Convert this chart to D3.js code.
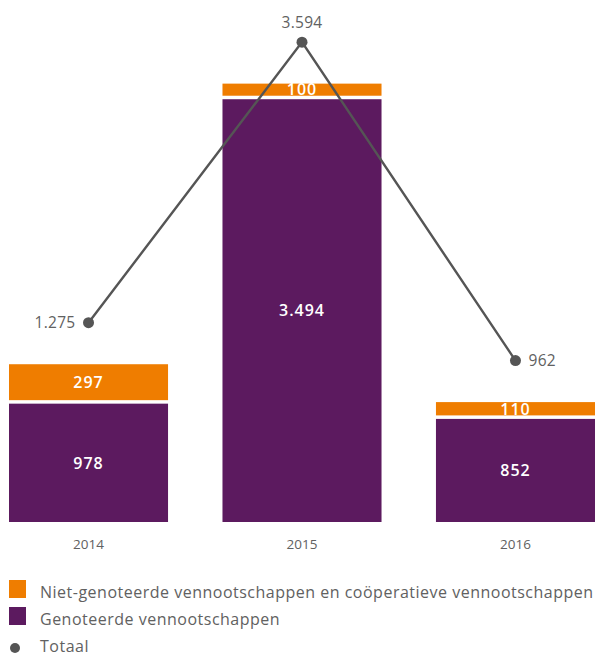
<!DOCTYPE html>
<html>
<head>
<meta charset="utf-8">
<script src="https://cdn.jsdelivr.net/npm/d3@7"></script>
<style>
  html, body { margin: 0; padding: 0; background: #fff; }
  svg { display: block; font-family: "Open Sans", "DejaVu Sans", sans-serif; }
</style>
</head>
<body>
<svg id="chart" width="598" height="657"></svg>
<script>
// Jaren en aantallen per categorie
const years = ["2014", "2015", "2016"];
const genoteerd = [978, 3494, 852];
const nietGenoteerd = [297, 100, 110];
const totaal = [1275, 3594, 962];

const seriesNames = [
  "Niet-genoteerde vennootschappen en coöperatieve vennootschappen",
  "Genoteerde vennootschappen",
  "Totaal"
];
const colors = { orange: "#EF7D00", purple: "#5C1A5F", line: "#555555", text: "#616161" };

const svg = d3.select("#chart");

const x = d3.scaleBand().domain(years).range([9, 595]).paddingInner(0.255).paddingOuter(0);

const y = d3.scaleLinear().domain([0, 3600]).range([522, 522 - 3600 * 0.121]);
// the total line runs on the same scale, lifted above the bars
const lift = 45;
const yLine = d3.scaleLinear().domain([0, 3600]).range([y(0) - lift, y(3600) - lift]);
const gap = 3.5;

const data = years.map((yr, i) => ({ yr, g: genoteerd[i], n: nietGenoteerd[i], t: totaal[i] }));

const bars = svg.append("g");
// Genoteerde vennootschappen
bars.selectAll("rect.g").data(data).join("rect")
  .attr("x", d => x(d.yr)).attr("width", x.bandwidth())
  .attr("y", d => y(d.g)).attr("height", d => y(0) - y(d.g))
  .attr("fill", colors.purple);
// Niet-genoteerde vennootschappen, stacked with a small white gap
bars.selectAll("rect.n").data(data).join("rect")
  .attr("x", d => x(d.yr)).attr("width", x.bandwidth())
  .attr("y", d => y(d.g + d.n) - gap).attr("height", d => y(d.g) - y(d.g + d.n))
  .attr("fill", colors.orange);

// value labels inside bars
const fmt = d3.formatLocale({ decimal: ",", thousands: ".", grouping: [3], currency: ["€", ""] }).format(",d");
bars.selectAll("text.g").data(data).join("text")
  .attr("x", d => x(d.yr) + x.bandwidth() / 2)
  .attr("y", d => (y(d.g) + y(0)) / 2)
  .attr("dy", "0.36em").attr("text-anchor", "middle")
  .attr("fill", "#fff").attr("font-size", 16).attr("font-weight", 600)
  .attr("letter-spacing", 1)
  .text(d => fmt(d.g));
bars.selectAll("text.n").data(data).join("text")
  .attr("x", d => x(d.yr) + x.bandwidth() / 2)
  .attr("y", d => (y(d.g + d.n) + y(d.g)) / 2 - gap)
  .attr("dy", "0.36em").attr("text-anchor", "middle")
  .attr("fill", "#fff").attr("font-size", 16).attr("font-weight", 600)
  .attr("letter-spacing", 1)
  .text(d => fmt(d.n));

// x axis labels
svg.append("g").selectAll("text").data(years).join("text")
  .attr("x", d => x(d) + x.bandwidth() / 2).attr("y", 544)
  .attr("dy", "0.36em").attr("text-anchor", "middle")
  .attr("fill", colors.text).attr("font-size", 13.5)
  .text(d => d);

// total line
const cx = d => x(d.yr) + x.bandwidth() / 2;
svg.append("path").datum(data)
  .attr("d", d3.line().x(cx).y(d => yLine(d.t)))
  .attr("fill", "none").attr("stroke", colors.line).attr("stroke-width", 2.4);
svg.append("g").selectAll("circle").data(data).join("circle")
  .attr("cx", cx).attr("cy", d => yLine(d.t)).attr("r", 5.5)
  .attr("fill", colors.line);

// total labels: left, top, right
const pos = [
  { dx: -13, dy: 0, anchor: "end" },
  { dx: 0, dy: -20, anchor: "middle" },
  { dx: 13, dy: 0, anchor: "start" }
];
svg.append("g").selectAll("text").data(data).join("text")
  .attr("x", (d, i) => cx(d) + pos[i].dx)
  .attr("y", (d, i) => yLine(d.t) + pos[i].dy)
  .attr("dy", "0.36em").attr("text-anchor", (d, i) => pos[i].anchor)
  .attr("fill", colors.text).attr("font-size", 15.5)
  .attr("letter-spacing", 0.3)
  .text(d => fmt(d.t));

// legend
const legend = svg.append("g");
const ly = [589, 616, 648];
legend.append("rect").attr("x", 9).attr("y", ly[0] - 9).attr("width", 17).attr("height", 18).attr("fill", colors.orange);
legend.append("rect").attr("x", 9).attr("y", ly[1] - 9).attr("width", 17).attr("height", 18).attr("fill", colors.purple);
legend.append("circle").attr("cx", 15).attr("cy", ly[2]).attr("r", 5).attr("fill", colors.line);
legend.selectAll("text").data(seriesNames).join("text")
  .attr("x", 40).attr("y", (d, i) => ly[i] + (i === 2 ? -2 : 3))
  .attr("dy", "0.36em")
  .attr("fill", colors.text).attr("font-size", 16).attr("letter-spacing", 0.5)
  .text(d => d);
</script>
</body>
</html>
